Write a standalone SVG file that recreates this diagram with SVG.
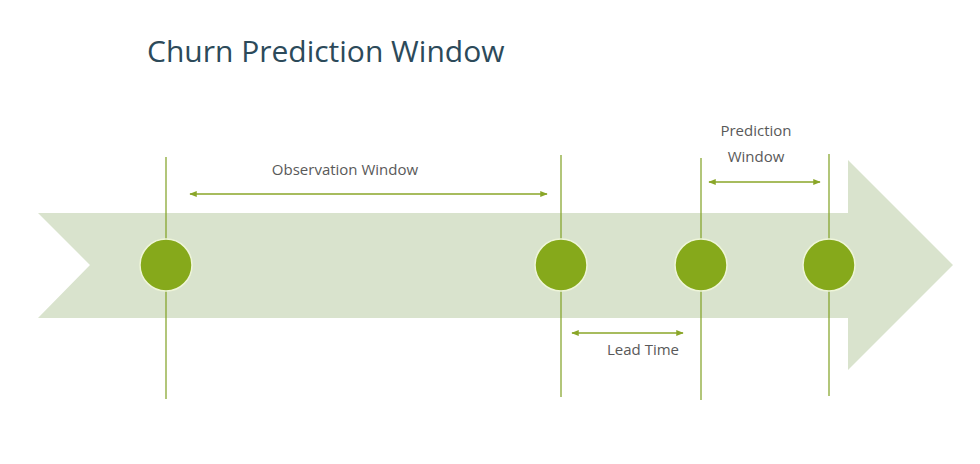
<svg xmlns="http://www.w3.org/2000/svg" width="980" height="464" viewBox="0 0 980 464">
<defs>
<style>
.lbl{font-family:"Open Sans","Liberation Sans",sans-serif;font-size:15px;fill:#595959;text-anchor:middle}
.title{font-family:"Open Sans","Liberation Sans",sans-serif;font-size:30px;fill:#2c4a5a}
.vl{stroke:#7fa020;stroke-width:1.2}
.dim{stroke:#8aa628;stroke-width:1.5;marker-start:url(#ah);marker-end:url(#ah)}
.dot{fill:#86a91b;stroke:#eef5d8;stroke-width:1.5}
</style>
<marker id="ah" viewBox="0 0 10 10" refX="9" refY="5" markerWidth="5" markerHeight="5" orient="auto-start-reverse" markerUnits="strokeWidth">
<path d="M0,1 L10,5 L0,9 z" fill="#8aa628"/>
</marker>
</defs>
<rect width="980" height="464" fill="#ffffff"/>
<text class="title" x="147" y="62">Churn Prediction Window</text>
<g id="timeline">
<polygon points="38,213 848,213 848,160 953,265 848,370 848,318 38,318 90,265" fill="#d9e3cd"/>
</g>
<g id="connectors">
<line class="vl" x1="166" y1="157" x2="166" y2="399"/>
<line class="vl" x1="561" y1="155" x2="561" y2="397"/>
<line class="vl" x1="701" y1="158" x2="701" y2="400"/>
<line class="vl" x1="829" y1="154" x2="829" y2="396"/>
<line class="dim" x1="190" y1="194" x2="547" y2="194"/>
<line class="dim" x1="709" y1="182" x2="820" y2="182"/>
<line class="dim" x1="572" y1="333" x2="683" y2="333"/>
</g>
<g id="node1"><circle class="dot" cx="166" cy="265" r="26"/></g>
<g id="node2"><circle class="dot" cx="561" cy="265" r="26"/></g>
<g id="node3"><circle class="dot" cx="701" cy="265" r="26"/></g>
<g id="node4"><circle class="dot" cx="829" cy="265" r="26"/></g>
<g id="labels">
<text class="lbl" x="345" y="175">Observation Window</text>
<text class="lbl" x="756" y="136">Prediction</text>
<text class="lbl" x="756" y="162">Window</text>
<text class="lbl" x="643" y="355">Lead Time</text>
</g>
</svg>
